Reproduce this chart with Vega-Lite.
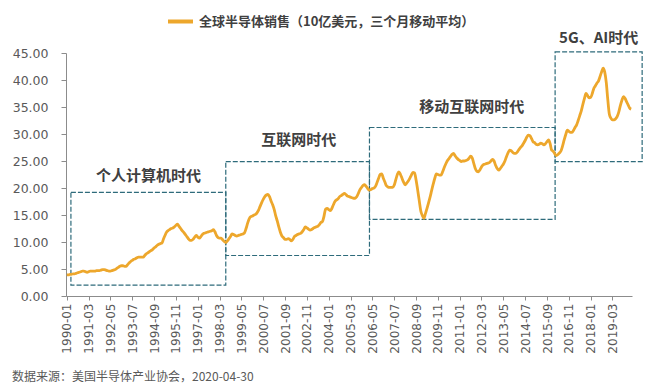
{
  "$schema": "https://vega.github.io/schema/vega-lite/v6.json",
  "width": 566,
  "height": 243,
  "autosize": {"type": "none"},
  "padding": {"left": 66, "top": 53, "right": 19, "bottom": 92},
  "background": "#ffffff",
  "config": {
    "view": {"stroke": null},
    "font": "Noto Sans CJK SC",
    "axisX": {"labelAngle": -90, "labelFont": "DejaVu Sans", "labelFontSize": 12, "labelColor": "#595959", "tickColor": "#8c8c8c", "domainColor": "#8c8c8c", "tickSize": 4, "labelPadding": 3, "grid": false, "labelOverlap": false, "labelFlush": false, "title": null},
    "axisY": {"labelFont": "DejaVu Sans", "labelFontSize": 12.5, "labelColor": "#595959", "tickColor": "#8c8c8c", "domainColor": "#8c8c8c", "tickSize": 5, "labelPadding": 13, "grid": false, "labelOverlap": false, "title": null}
  },
  "title": {
    "text": "数据来源：美国半导体产业协会，2020-04-30",
    "orient": "bottom",
    "anchor": "start",
    "frame": "group",
    "dx": -54,
    "offset": 19,
    "fontSize": 12,
    "fontWeight": "normal",
    "color": "#595959",
    "font": "Noto Sans CJK SC"
  },
  "datasets": {
    "sales": [
      {"d":"1990-01","v":3.9},{"d":"1990-02","v":3.9},{"d":"1990-03","v":4.0},{"d":"1990-04","v":4.0},{"d":"1990-05","v":4.1},{"d":"1990-06","v":4.1},{"d":"1990-07","v":4.2},{"d":"1990-08","v":4.3},{"d":"1990-09","v":4.4},{"d":"1990-10","v":4.5},{"d":"1990-11","v":4.6},{"d":"1990-12","v":4.6},
      {"d":"1991-01","v":4.5},{"d":"1991-02","v":4.4},{"d":"1991-03","v":4.5},{"d":"1991-04","v":4.6},{"d":"1991-05","v":4.6},{"d":"1991-06","v":4.6},{"d":"1991-07","v":4.6},{"d":"1991-08","v":4.7},{"d":"1991-09","v":4.7},{"d":"1991-10","v":4.7},{"d":"1991-11","v":4.8},{"d":"1991-12","v":4.9},
      {"d":"1992-01","v":4.9},{"d":"1992-02","v":4.8},{"d":"1992-03","v":4.7},{"d":"1992-04","v":4.6},{"d":"1992-05","v":4.6},{"d":"1992-06","v":4.7},{"d":"1992-07","v":4.8},{"d":"1992-08","v":4.9},{"d":"1992-09","v":5.1},{"d":"1992-10","v":5.3},{"d":"1992-11","v":5.5},{"d":"1992-12","v":5.6},
      {"d":"1993-01","v":5.6},{"d":"1993-02","v":5.5},{"d":"1993-03","v":5.5},{"d":"1993-04","v":5.8},{"d":"1993-05","v":6.1},{"d":"1993-06","v":6.4},{"d":"1993-07","v":6.6},{"d":"1993-08","v":6.8},{"d":"1993-09","v":6.9},{"d":"1993-10","v":7.1},{"d":"1993-11","v":7.2},{"d":"1993-12","v":7.2},
      {"d":"1994-01","v":7.2},{"d":"1994-02","v":7.2},{"d":"1994-03","v":7.5},{"d":"1994-04","v":7.8},{"d":"1994-05","v":8.0},{"d":"1994-06","v":8.2},{"d":"1994-07","v":8.4},{"d":"1994-08","v":8.6},{"d":"1994-09","v":8.9},{"d":"1994-10","v":9.1},{"d":"1994-11","v":9.4},{"d":"1994-12","v":9.6},
      {"d":"1995-01","v":9.7},{"d":"1995-02","v":9.8},{"d":"1995-03","v":10.5},{"d":"1995-04","v":11.2},{"d":"1995-05","v":11.8},{"d":"1995-06","v":12.1},{"d":"1995-07","v":12.3},{"d":"1995-08","v":12.5},{"d":"1995-09","v":12.6},{"d":"1995-10","v":12.8},{"d":"1995-11","v":13.1},{"d":"1995-12","v":13.3},
      {"d":"1996-01","v":12.9},{"d":"1996-02","v":12.5},{"d":"1996-03","v":12.1},{"d":"1996-04","v":11.8},{"d":"1996-05","v":11.4},{"d":"1996-06","v":11.0},{"d":"1996-07","v":10.6},{"d":"1996-08","v":10.3},{"d":"1996-09","v":10.3},{"d":"1996-10","v":10.5},{"d":"1996-11","v":10.9},{"d":"1996-12","v":11.2},
      {"d":"1997-01","v":10.9},{"d":"1997-02","v":10.7},{"d":"1997-03","v":11.0},{"d":"1997-04","v":11.4},{"d":"1997-05","v":11.6},{"d":"1997-06","v":11.7},{"d":"1997-07","v":11.8},{"d":"1997-08","v":11.9},{"d":"1997-09","v":12.0},{"d":"1997-10","v":12.1},{"d":"1997-11","v":12.3},{"d":"1997-12","v":11.9},
      {"d":"1998-01","v":11.2},{"d":"1998-02","v":10.8},{"d":"1998-03","v":10.7},{"d":"1998-04","v":10.7},{"d":"1998-05","v":10.4},{"d":"1998-06","v":10.1},{"d":"1998-07","v":9.9},{"d":"1998-08","v":10.2},{"d":"1998-09","v":10.6},{"d":"1998-10","v":11.0},{"d":"1998-11","v":11.5},{"d":"1998-12","v":11.4},
      {"d":"1999-01","v":11.2},{"d":"1999-02","v":11.1},{"d":"1999-03","v":11.2},{"d":"1999-04","v":11.3},{"d":"1999-05","v":11.4},{"d":"1999-06","v":11.5},{"d":"1999-07","v":11.7},{"d":"1999-08","v":12.5},{"d":"1999-09","v":13.5},{"d":"1999-10","v":14.3},{"d":"1999-11","v":14.7},{"d":"1999-12","v":14.8},
      {"d":"2000-01","v":15.0},{"d":"2000-02","v":15.1},{"d":"2000-03","v":15.4},{"d":"2000-04","v":15.9},{"d":"2000-05","v":16.6},{"d":"2000-06","v":17.3},{"d":"2000-07","v":17.9},{"d":"2000-08","v":18.4},{"d":"2000-09","v":18.7},{"d":"2000-10","v":18.8},{"d":"2000-11","v":18.4},{"d":"2000-12","v":17.6},
      {"d":"2001-01","v":16.9},{"d":"2001-02","v":16.0},{"d":"2001-03","v":14.9},{"d":"2001-04","v":13.9},{"d":"2001-05","v":12.8},{"d":"2001-06","v":11.8},{"d":"2001-07","v":11.1},{"d":"2001-08","v":10.8},{"d":"2001-09","v":10.5},{"d":"2001-10","v":10.5},{"d":"2001-11","v":10.6},{"d":"2001-12","v":10.5},
      {"d":"2002-01","v":10.2},{"d":"2002-02","v":10.5},{"d":"2002-03","v":11.0},{"d":"2002-04","v":11.2},{"d":"2002-05","v":11.4},{"d":"2002-06","v":11.5},{"d":"2002-07","v":11.6},{"d":"2002-08","v":11.9},{"d":"2002-09","v":12.3},{"d":"2002-10","v":12.8},{"d":"2002-11","v":12.6},{"d":"2002-12","v":12.4},
      {"d":"2003-01","v":12.2},{"d":"2003-02","v":12.3},{"d":"2003-03","v":12.5},{"d":"2003-04","v":12.7},{"d":"2003-05","v":12.8},{"d":"2003-06","v":12.9},{"d":"2003-07","v":13.2},{"d":"2003-08","v":13.6},{"d":"2003-09","v":13.8},{"d":"2003-10","v":14.8},{"d":"2003-11","v":16.1},{"d":"2003-12","v":16.2},
      {"d":"2004-01","v":16.0},{"d":"2004-02","v":15.8},{"d":"2004-03","v":16.2},{"d":"2004-04","v":16.9},{"d":"2004-05","v":17.5},{"d":"2004-06","v":17.8},{"d":"2004-07","v":18.0},{"d":"2004-08","v":18.4},{"d":"2004-09","v":18.6},{"d":"2004-10","v":18.8},{"d":"2004-11","v":19.0},{"d":"2004-12","v":18.8},
      {"d":"2005-01","v":18.5},{"d":"2005-02","v":18.4},{"d":"2005-03","v":18.3},{"d":"2005-04","v":18.2},{"d":"2005-05","v":18.1},{"d":"2005-06","v":18.1},{"d":"2005-07","v":18.4},{"d":"2005-08","v":19.0},{"d":"2005-09","v":19.7},{"d":"2005-10","v":20.1},{"d":"2005-11","v":20.5},{"d":"2005-12","v":20.6},
      {"d":"2006-01","v":20.3},{"d":"2006-02","v":19.9},{"d":"2006-03","v":19.6},{"d":"2006-04","v":19.7},{"d":"2006-05","v":19.9},{"d":"2006-06","v":20.0},{"d":"2006-07","v":20.3},{"d":"2006-08","v":21.0},{"d":"2006-09","v":21.8},{"d":"2006-10","v":22.5},{"d":"2006-11","v":22.6},{"d":"2006-12","v":21.8},
      {"d":"2007-01","v":21.1},{"d":"2007-02","v":20.4},{"d":"2007-03","v":20.2},{"d":"2007-04","v":20.1},{"d":"2007-05","v":20.1},{"d":"2007-06","v":20.1},{"d":"2007-07","v":20.5},{"d":"2007-08","v":21.5},{"d":"2007-09","v":22.5},{"d":"2007-10","v":23.0},{"d":"2007-11","v":22.5},{"d":"2007-12","v":21.8},
      {"d":"2008-01","v":21.1},{"d":"2008-02","v":20.6},{"d":"2008-03","v":20.9},{"d":"2008-04","v":21.3},{"d":"2008-05","v":21.8},{"d":"2008-06","v":22.4},{"d":"2008-07","v":22.9},{"d":"2008-08","v":22.8},{"d":"2008-09","v":21.5},{"d":"2008-10","v":19.7},{"d":"2008-11","v":17.7},{"d":"2008-12","v":15.8},
      {"d":"2009-01","v":14.9},{"d":"2009-02","v":14.4},{"d":"2009-03","v":15.2},{"d":"2009-04","v":16.2},{"d":"2009-05","v":17.2},{"d":"2009-06","v":18.3},{"d":"2009-07","v":19.5},{"d":"2009-08","v":20.7},{"d":"2009-09","v":21.8},{"d":"2009-10","v":22.6},{"d":"2009-11","v":22.5},{"d":"2009-12","v":22.4},
      {"d":"2010-01","v":22.4},{"d":"2010-02","v":23.0},{"d":"2010-03","v":23.7},{"d":"2010-04","v":24.4},{"d":"2010-05","v":25.0},{"d":"2010-06","v":25.4},{"d":"2010-07","v":25.8},{"d":"2010-08","v":26.2},{"d":"2010-09","v":26.4},{"d":"2010-10","v":26.0},{"d":"2010-11","v":25.6},{"d":"2010-12","v":25.3},
      {"d":"2011-01","v":25.1},{"d":"2011-02","v":24.9},{"d":"2011-03","v":25.0},{"d":"2011-04","v":25.0},{"d":"2011-05","v":25.1},{"d":"2011-06","v":25.2},{"d":"2011-07","v":25.5},{"d":"2011-08","v":25.9},{"d":"2011-09","v":25.6},{"d":"2011-10","v":24.6},{"d":"2011-11","v":23.6},{"d":"2011-12","v":23.1},
      {"d":"2012-01","v":23.0},{"d":"2012-02","v":23.4},{"d":"2012-03","v":23.9},{"d":"2012-04","v":24.3},{"d":"2012-05","v":24.4},{"d":"2012-06","v":24.5},{"d":"2012-07","v":24.6},{"d":"2012-08","v":24.7},{"d":"2012-09","v":25.0},{"d":"2012-10","v":25.3},{"d":"2012-11","v":25.0},{"d":"2012-12","v":24.2},
      {"d":"2013-01","v":23.6},{"d":"2013-02","v":23.3},{"d":"2013-03","v":23.6},{"d":"2013-04","v":24.0},{"d":"2013-05","v":24.4},{"d":"2013-06","v":25.0},{"d":"2013-07","v":25.8},{"d":"2013-08","v":26.5},{"d":"2013-09","v":27.0},{"d":"2013-10","v":26.9},{"d":"2013-11","v":26.6},{"d":"2013-12","v":26.4},
      {"d":"2014-01","v":26.4},{"d":"2014-02","v":26.7},{"d":"2014-03","v":27.1},{"d":"2014-04","v":27.5},{"d":"2014-05","v":27.8},{"d":"2014-06","v":28.3},{"d":"2014-07","v":28.8},{"d":"2014-08","v":29.4},{"d":"2014-09","v":29.8},{"d":"2014-10","v":29.7},{"d":"2014-11","v":29.2},{"d":"2014-12","v":28.6},
      {"d":"2015-01","v":28.4},{"d":"2015-02","v":28.1},{"d":"2015-03","v":28.0},{"d":"2015-04","v":28.1},{"d":"2015-05","v":28.3},{"d":"2015-06","v":28.2},{"d":"2015-07","v":28.0},{"d":"2015-08","v":28.2},{"d":"2015-09","v":28.6},{"d":"2015-10","v":28.9},{"d":"2015-11","v":28.2},{"d":"2015-12","v":27.0},
      {"d":"2016-01","v":26.8},{"d":"2016-02","v":26.3},{"d":"2016-03","v":26.0},{"d":"2016-04","v":26.2},{"d":"2016-05","v":26.5},{"d":"2016-06","v":26.9},{"d":"2016-07","v":27.8},{"d":"2016-08","v":28.9},{"d":"2016-09","v":29.9},{"d":"2016-10","v":30.7},{"d":"2016-11","v":30.5},{"d":"2016-12","v":30.3},
      {"d":"2017-01","v":30.3},{"d":"2017-02","v":30.7},{"d":"2017-03","v":31.2},{"d":"2017-04","v":31.7},{"d":"2017-05","v":32.5},{"d":"2017-06","v":33.4},{"d":"2017-07","v":34.3},{"d":"2017-08","v":35.5},{"d":"2017-09","v":36.6},{"d":"2017-10","v":37.5},{"d":"2017-11","v":37.1},{"d":"2017-12","v":36.7},
      {"d":"2018-01","v":36.8},{"d":"2018-02","v":37.5},{"d":"2018-03","v":38.4},{"d":"2018-04","v":38.9},{"d":"2018-05","v":39.4},{"d":"2018-06","v":39.8},{"d":"2018-07","v":40.6},{"d":"2018-08","v":41.5},{"d":"2018-09","v":42.2},{"d":"2018-10","v":41.5},{"d":"2018-11","v":39.5},{"d":"2018-12","v":36.3},
      {"d":"2019-01","v":33.6},{"d":"2019-02","v":32.9},{"d":"2019-03","v":32.6},{"d":"2019-04","v":32.6},{"d":"2019-05","v":32.8},{"d":"2019-06","v":33.2},{"d":"2019-07","v":34.0},{"d":"2019-08","v":35.2},{"d":"2019-09","v":36.2},{"d":"2019-10","v":36.9},{"d":"2019-11","v":36.6},{"d":"2019-12","v":36.0},
      {"d":"2020-01","v":35.4},{"d":"2020-02","v":34.8},{"d":"2020-03","v":34.6}
    ],
    "eras": [
      {"d":"1990-03-22","d2":"1998-07-01","v":2.0,"v2":19.2},
      {"d":"1998-07-01","d2":"2006-03-06","v":7.5,"v2":24.9},
      {"d":"2006-03-06","d2":"2016-02-06","v":14.2,"v2":31.2},
      {"d":"2016-02-06","d2":"2020-10-01","v":24.9,"v2":45.2}
    ],
    "labels": [
      {"d":"1994-05-14","v":22.2,"t":"个人计算机时代"},
      {"d":"2002-05-25","v":28.8,"t":"互联网时代"},
      {"d":"2011-08-25","v":35.0,"t":"移动互联网时代"},
      {"d":"2018-06-05","v":47.8,"t":"5G、AI时代"}
    ]
  },
  "layer": [
    {
      "data": {"name": "eras", "format": {"parse": {"d": "utc:'%Y-%m-%d'", "d2": "utc:'%Y-%m-%d'"}}},
      "mark": {"type": "rect", "fill": "#ffffff", "fillOpacity": 0, "stroke": "#2E6B7B", "strokeWidth": 1.2, "strokeDash": [5, 2], "clip": false},
      "encoding": {
        "x": {"field": "d", "type": "temporal",
              "scale": {"type": "utc", "domain": [{"year": 1989, "month": 12, "date": 16, "utc": true}, {"year": 2020, "month": 3, "date": 17, "utc": true}]},
              "axis": {"format": "%Y-%m",
                "values": [
                  {"year":1990,"month":1,"date":1,"utc":true},{"year":1991,"month":3,"date":1,"utc":true},{"year":1992,"month":5,"date":1,"utc":true},
                  {"year":1993,"month":7,"date":1,"utc":true},{"year":1994,"month":9,"date":1,"utc":true},{"year":1995,"month":11,"date":1,"utc":true},
                  {"year":1997,"month":1,"date":1,"utc":true},{"year":1998,"month":3,"date":1,"utc":true},{"year":1999,"month":5,"date":1,"utc":true},
                  {"year":2000,"month":7,"date":1,"utc":true},{"year":2001,"month":9,"date":1,"utc":true},{"year":2002,"month":11,"date":1,"utc":true},
                  {"year":2004,"month":1,"date":1,"utc":true},{"year":2005,"month":3,"date":1,"utc":true},{"year":2006,"month":5,"date":1,"utc":true},
                  {"year":2007,"month":7,"date":1,"utc":true},{"year":2008,"month":9,"date":1,"utc":true},{"year":2009,"month":11,"date":1,"utc":true},
                  {"year":2011,"month":1,"date":1,"utc":true},{"year":2012,"month":3,"date":1,"utc":true},{"year":2013,"month":5,"date":1,"utc":true},
                  {"year":2014,"month":7,"date":1,"utc":true},{"year":2015,"month":9,"date":1,"utc":true},{"year":2016,"month":11,"date":1,"utc":true},
                  {"year":2018,"month":1,"date":1,"utc":true},{"year":2019,"month":3,"date":1,"utc":true}
                ]}},
        "x2": {"field": "d2"},
        "y": {"field": "v", "type": "quantitative", "scale": {"domain": [0, 45], "nice": false},
              "axis": {"values": [0, 5, 10, 15, 20, 25, 30, 35, 40, 45], "format": ".2f"}},
        "y2": {"field": "v2"}
      }
    },
    {
      "data": {"name": "sales", "format": {"parse": {"d": "utc:'%Y-%m'"}}},
      "mark": {"type": "line", "strokeWidth": 2.8, "interpolate": "monotone", "clip": false},
      "encoding": {
        "x": {"field": "d", "type": "temporal",
              "scale": {"type": "utc", "domain": [{"year": 1989, "month": 12, "date": 16, "utc": true}, {"year": 2020, "month": 3, "date": 17, "utc": true}]},
              "axis": {"format": "%Y-%m",
                "values": [
                  {"year":1990,"month":1,"date":1,"utc":true},{"year":1991,"month":3,"date":1,"utc":true},{"year":1992,"month":5,"date":1,"utc":true},
                  {"year":1993,"month":7,"date":1,"utc":true},{"year":1994,"month":9,"date":1,"utc":true},{"year":1995,"month":11,"date":1,"utc":true},
                  {"year":1997,"month":1,"date":1,"utc":true},{"year":1998,"month":3,"date":1,"utc":true},{"year":1999,"month":5,"date":1,"utc":true},
                  {"year":2000,"month":7,"date":1,"utc":true},{"year":2001,"month":9,"date":1,"utc":true},{"year":2002,"month":11,"date":1,"utc":true},
                  {"year":2004,"month":1,"date":1,"utc":true},{"year":2005,"month":3,"date":1,"utc":true},{"year":2006,"month":5,"date":1,"utc":true},
                  {"year":2007,"month":7,"date":1,"utc":true},{"year":2008,"month":9,"date":1,"utc":true},{"year":2009,"month":11,"date":1,"utc":true},
                  {"year":2011,"month":1,"date":1,"utc":true},{"year":2012,"month":3,"date":1,"utc":true},{"year":2013,"month":5,"date":1,"utc":true},
                  {"year":2014,"month":7,"date":1,"utc":true},{"year":2015,"month":9,"date":1,"utc":true},{"year":2016,"month":11,"date":1,"utc":true},
                  {"year":2018,"month":1,"date":1,"utc":true},{"year":2019,"month":3,"date":1,"utc":true}
                ]}},
        "y": {"field": "v", "type": "quantitative", "scale": {"domain": [0, 45], "nice": false},
              "axis": {"values": [0, 5, 10, 15, 20, 25, 30, 35, 40, 45], "format": ".2f"}},
        "color": {"datum": "全球半导体销售（10亿美元，三个月移动平均）", "type": "nominal",
                  "scale": {"range": ["#EDA72C"]},
                  "legend": {"title": null, "orient": "none", "legendX": 100, "legendY": -46,
                             "symbolType": "stroke", "symbolStrokeWidth": 4, "symbolSize": 625,
                             "labelFont": "Noto Sans CJK SC", "labelFontSize": 13, "labelFontWeight": "bold",
                             "labelColor": "#404040", "labelLimit": 500}}
      }
    },
    {
      "data": {"name": "labels", "format": {"parse": {"d": "utc:'%Y-%m-%d'"}}},
      "mark": {"type": "text", "fontSize": 15, "fontWeight": "bold", "color": "#404040", "font": "Noto Sans CJK SC", "align": "center", "baseline": "middle", "clip": false},
      "encoding": {
        "x": {"field": "d", "type": "temporal",
              "scale": {"type": "utc", "domain": [{"year": 1989, "month": 12, "date": 16, "utc": true}, {"year": 2020, "month": 3, "date": 17, "utc": true}]},
              "axis": {"format": "%Y-%m",
                "values": [
                  {"year":1990,"month":1,"date":1,"utc":true},{"year":1991,"month":3,"date":1,"utc":true},{"year":1992,"month":5,"date":1,"utc":true},
                  {"year":1993,"month":7,"date":1,"utc":true},{"year":1994,"month":9,"date":1,"utc":true},{"year":1995,"month":11,"date":1,"utc":true},
                  {"year":1997,"month":1,"date":1,"utc":true},{"year":1998,"month":3,"date":1,"utc":true},{"year":1999,"month":5,"date":1,"utc":true},
                  {"year":2000,"month":7,"date":1,"utc":true},{"year":2001,"month":9,"date":1,"utc":true},{"year":2002,"month":11,"date":1,"utc":true},
                  {"year":2004,"month":1,"date":1,"utc":true},{"year":2005,"month":3,"date":1,"utc":true},{"year":2006,"month":5,"date":1,"utc":true},
                  {"year":2007,"month":7,"date":1,"utc":true},{"year":2008,"month":9,"date":1,"utc":true},{"year":2009,"month":11,"date":1,"utc":true},
                  {"year":2011,"month":1,"date":1,"utc":true},{"year":2012,"month":3,"date":1,"utc":true},{"year":2013,"month":5,"date":1,"utc":true},
                  {"year":2014,"month":7,"date":1,"utc":true},{"year":2015,"month":9,"date":1,"utc":true},{"year":2016,"month":11,"date":1,"utc":true},
                  {"year":2018,"month":1,"date":1,"utc":true},{"year":2019,"month":3,"date":1,"utc":true}
                ]}},
        "y": {"field": "v", "type": "quantitative", "scale": {"domain": [0, 45], "nice": false},
              "axis": {"values": [0, 5, 10, 15, 20, 25, 30, 35, 40, 45], "format": ".2f"}},
        "text": {"field": "t"}
      }
    }
  ]
}
